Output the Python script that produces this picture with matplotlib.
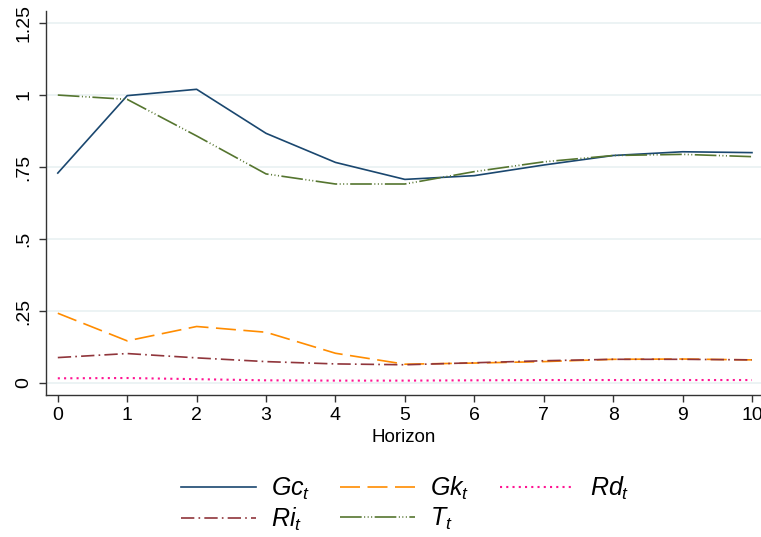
import matplotlib
matplotlib.use("Agg")
import matplotlib.pyplot as plt

plt.rcParams['font.family'] = ['Liberation Sans', 'DejaVu Sans']
plt.rcParams['mathtext.fontset'] = 'custom'
plt.rcParams['mathtext.it'] = 'Liberation Sans:italic'
plt.rcParams['mathtext.rm'] = 'Liberation Sans'

horizon = [0, 1, 2, 3, 4, 5, 6, 7, 8, 9, 10]
gc = [0.729, 0.998, 1.020, 0.867, 0.766, 0.707, 0.720, 0.757, 0.790, 0.803, 0.800]
gk = [0.242, 0.146, 0.196, 0.176, 0.103, 0.065, 0.069, 0.074, 0.082, 0.083, 0.080]
rd = [0.016, 0.017, 0.013, 0.009, 0.008, 0.008, 0.009, 0.010, 0.010, 0.010, 0.010]
ri = [0.088, 0.102, 0.087, 0.074, 0.066, 0.063, 0.070, 0.077, 0.082, 0.082, 0.080]
tt = [1.000, 0.985, 0.858, 0.726, 0.691, 0.691, 0.734, 0.768, 0.790, 0.794, 0.786]

labels = [r'$\mathit{Gc}_t$', r'$\mathit{Gk}_t$', r'$\mathit{Rd}_t$', r'$\mathit{Ri}_t$', r'$\mathit{T}_t$']
yticks = [0, 0.25, 0.5, 0.75, 1, 1.25]
yticklabels = ['0', '.25', '.5', '.75', '1', '1.25']

fig = plt.figure(figsize=(7.61, 5.37), dpi=100)
ax = fig.add_axes([46/761, 1-395/537, 715/761, 384/537])

lw = 1.2
h_gc, = ax.plot(horizon, gc, color='#1a476f', lw=lw, label=labels[0])
h_gk, = ax.plot(horizon, gk, color='#ff8c00', lw=lw, dashes=(12, 4.5), label=labels[1])
h_rd, = ax.plot(horizon, rd, color='#ff1493', lw=1.5, dashes=(1, 2.0), label=labels[2])
h_ri, = ax.plot(horizon, ri, color='#90353b', lw=lw, dashes=(8, 2.5, 1, 2.5), label=labels[3])
h_tt, = ax.plot(horizon, tt, color='#55752f', lw=lw,
                dashes=(13, 1.5, 0.6, 1.5, 0.6, 1.5, 0.6, 1.5), label=labels[4])

ax.set_xlim(-0.17, 10.13)
ax.set_ylim(-0.042, 1.292)
ax.set_xticks(horizon)
ax.set_xticklabels([str(h) for h in horizon], fontsize=14)
ax.set_yticks(yticks)
ax.set_yticklabels(yticklabels, fontsize=14, rotation=90, va='center')
ax.yaxis.grid(True, color='#eaf2f3', lw=1.3)
ax.set_axisbelow(True)
for s in ['top', 'right']:
    ax.spines[s].set_visible(False)
for s in ['left', 'bottom']:
    ax.spines[s].set_color('#333333')
    ax.spines[s].set_linewidth(1.0)
ax.tick_params(axis='both', direction='out', length=5, color='#333333', width=1.0)
ax.tick_params(axis='x', pad=4)
ax.tick_params(axis='y', pad=5)
ax.set_xlabel('Horizon', fontsize=13.5, labelpad=3)

order = [h_gc, h_ri, h_gk, h_tt, h_rd]
fig.legend(handles=order, labels=[h.get_label() for h in order],
           loc='center left', bbox_to_anchor=(181/761, 1-504/537), ncol=3, frameon=False,
           fontsize=18, handlelength=3.0, columnspacing=1.2, handletextpad=0.6,
           labelspacing=0.15, borderpad=0, borderaxespad=0)

fig.savefig('out.png', dpi=100)
